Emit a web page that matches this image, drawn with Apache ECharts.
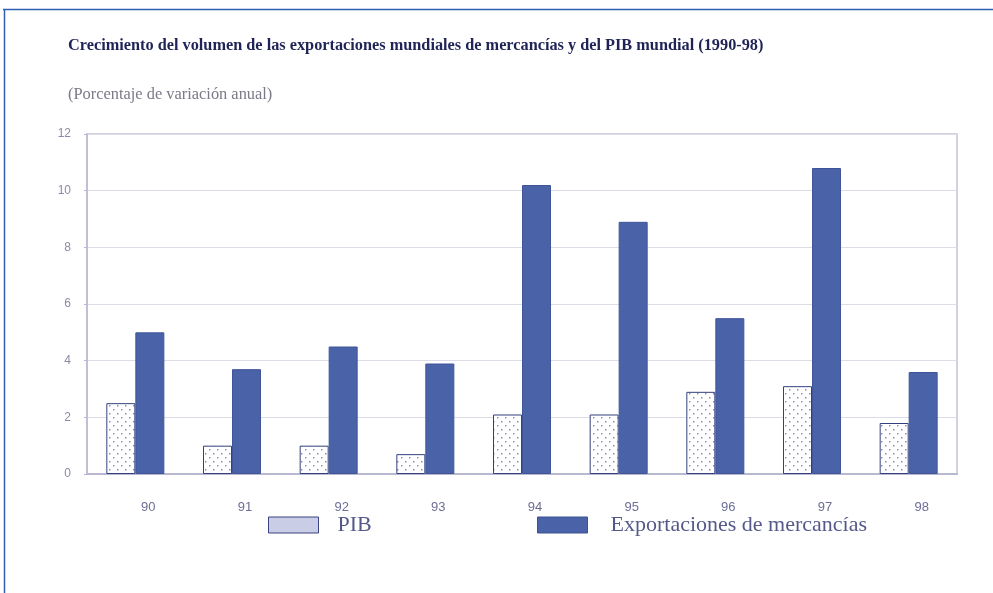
<!DOCTYPE html>
<html>
<head>
<meta charset="utf-8">
<script src="https://cdn.jsdelivr.net/npm/echarts@6/dist/echarts.min.js"></script>
<style>
  html, body { margin: 0; padding: 0; background: #ffffff; }
  #chart { width: 993px; height: 593px; }
</style>
</head>
<body>
<div id="chart"></div>
<script>
// Años (1990-98) y tasas de variación anual, en %
const years = ['90', '91', '92', '93', '94', '95', '96', '97', '98'];
const pib = [2.5, 1.0, 1.0, 0.7, 2.1, 2.1, 2.9, 3.1, 1.8];
const exportaciones = [5.0, 3.7, 4.5, 3.9, 10.2, 8.9, 5.5, 10.8, 3.6];
const yTicks = [0, 2, 4, 6, 8, 10, 12];

const titleText = 'Crecimiento del volumen de las exportaciones mundiales de mercancías y del PIB mundial (1990-98)';
const subtitleText = '(Porcentaje de variación anual)';

// Trama punteada para las barras del PIB
function dotPattern() {
  const c = document.createElement('canvas');
  c.width = 8; c.height = 8;
  const ctx = c.getContext('2d');
  ctx.fillStyle = '#ffffff';
  ctx.fillRect(0, 0, 8, 8);
  ctx.fillStyle = '#8a8fb8';
  ctx.fillRect(1, 1, 1.5, 1.5);
  ctx.fillRect(5, 5, 1.5, 1.5);
  return c;
}

const legendText = { fontFamily: 'Liberation Serif', fontSize: 22, color: '#55598a' };

const chart = echarts.init(document.getElementById('chart'), null, { renderer: 'canvas' });

chart.setOption({
  backgroundColor: '#ffffff',
  animation: false,
  title: [
    {
      text: titleText,
      left: 63, top: 33,
      textStyle: { fontFamily: 'Liberation Serif', fontWeight: 'bold', fontSize: 16.3, color: '#1f2356' }
    },
    {
      text: subtitleText,
      left: 63, top: 82,
      textStyle: { fontFamily: 'Liberation Serif', fontWeight: 'normal', fontSize: 16.4, color: '#7a7a88' }
    }
  ],
  legend: [
    {
      left: 263, top: 509,
      icon: 'rect',
      itemWidth: 50, itemHeight: 16,
      textStyle: Object.assign({ padding: [0, 0, 0, 14] }, legendText),
      data: [{ name: 'PIB', itemStyle: { color: '#c9cde6', borderColor: '#3a4280', borderWidth: 1 } }]
    },
    {
      left: 532, top: 509,
      icon: 'rect',
      itemWidth: 50, itemHeight: 16,
      textStyle: Object.assign({ padding: [0, 0, 0, 18] }, legendText),
      data: [{ name: 'Exportaciones de mercancías', itemStyle: { color: '#4a62a8', borderColor: '#3d5294', borderWidth: 1 } }]
    }
  ],
  graphic: [
    { type: 'line', shape: { x1: 3, y1: 9.5, x2: 993, y2: 9.5 }, style: { stroke: '#2f5fb3', lineWidth: 1.5 } },
    { type: 'line', shape: { x1: 4.5, y1: 9, x2: 4.5, y2: 593 }, style: { stroke: '#2f5fb3', lineWidth: 1.5 } }
  ],
  grid: { left: 87, right: 36, top: 134, bottom: 119, show: true, borderColor: '#c4c4d8', borderWidth: 1.5 },
  xAxis: {
    type: 'category',
    data: years,
    axisLine: { lineStyle: { color: '#b8b8d0', width: 2 } },
    axisTick: { show: false },
    axisLabel: {
      margin: 27, fontFamily: 'Liberation Sans', fontSize: 13, color: '#6c6e98',
      padding: [0, 0, 0, 26]
    }
  },
  yAxis: {
    type: 'value',
    min: yTicks[0], max: yTicks[yTicks.length - 1], interval: 2,
    axisLine: { show: true, lineStyle: { color: '#b8b8d0', width: 1.5 } },
    axisTick: { show: true, length: 3, inside: false, lineStyle: { color: '#b8b8d0' } },
    axisLabel: { margin: 16, fontFamily: 'Liberation Sans', fontSize: 12, color: '#8a8aa8' },
    splitLine: { lineStyle: { color: '#dcdce6', width: 1 } }
  },
  series: [
    {
      name: 'PIB',
      type: 'bar',
      data: pib,
      barWidth: '30%',
      barGap: '0%',
      itemStyle: {
        color: { image: dotPattern(), repeat: 'repeat' },
        borderColor: '#34407e',
        borderWidth: 1
      }
    },
    {
      name: 'Exportaciones de mercancías',
      type: 'bar',
      data: exportaciones,
      barWidth: '30%',
      itemStyle: { color: '#4a62a8', borderColor: '#3f5598', borderWidth: 1 }
    }
  ]
});
</script>
</body>
</html>
